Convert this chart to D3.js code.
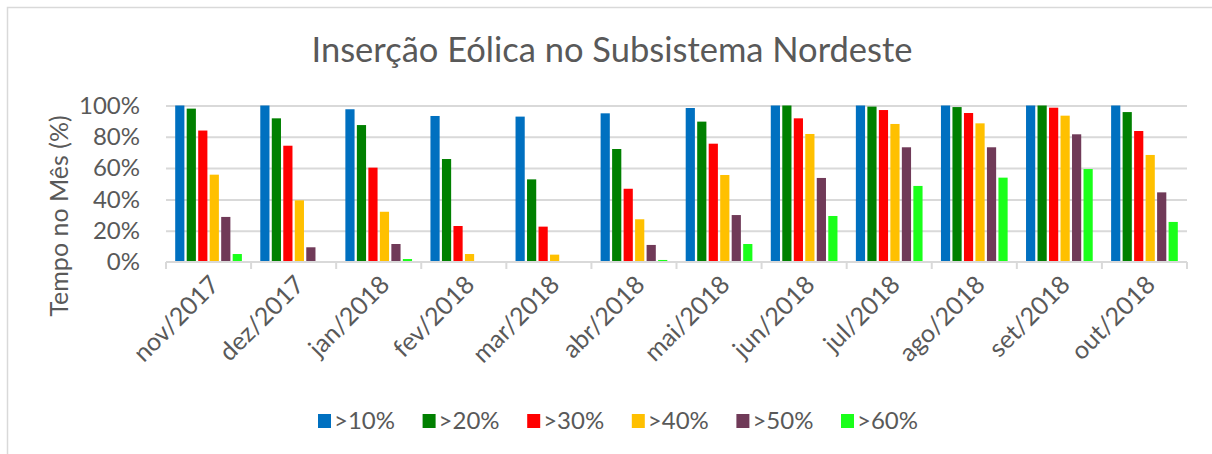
<!DOCTYPE html>
<html>
<head>
<meta charset="utf-8">
<script src="https://cdn.jsdelivr.net/npm/d3@7"></script>
<style>
  body { margin: 0; background: #fff; }
  svg text { font-family: Lato, "Open Sans", sans-serif; fill: #595959; }
</style>
</head>
<body>
<div id="chart"></div>
<script>
// Data
var months = ["nov/2017", "dez/2017", "jan/2018", "fev/2018", "mar/2018", "abr/2018",
              "mai/2018", "jun/2018", "jul/2018", "ago/2018", "set/2018", "out/2018"];
var seriesNames = [">10%", ">20%", ">30%", ">40%", ">50%", ">60%"];
var seriesColors = ["#0070C0", "#008000", "#FF0000", "#FFC000", "#703A58", "#1AFF1A"];

var over10 = [100, 100, 97.6, 93.3, 92.9, 95.0, 98.4, 100, 100, 100, 100, 100];
var over20 = [98.0, 91.8, 87.5, 65.8, 52.8, 72.2, 89.7, 100, 99.3, 99.0, 100, 95.8];
var over30 = [84.0, 74.3, 60.3, 23.0, 22.6, 46.8, 75.6, 91.8, 97.1, 95.2, 98.6, 83.7];
var over40 = [55.8, 39.4, 32.1, 5.1, 4.7, 27.3, 55.6, 81.8, 88.2, 88.6, 93.5, 68.4];
var over50 = [28.8, 9.4, 11.5, 0, 0, 10.9, 30.0, 53.7, 73.3, 73.3, 81.6, 44.5];
var over60 = [5.1, 0.3, 1.9, 0, 0, 1.3, 11.5, 29.4, 48.6, 53.9, 59.4, 25.6];
var yTicks = [0, 20, 40, 60, 80, 100];

var allSeries = [over10, over20, over30, over40, over50, over60];

// SVG dimensions
var svgWidth = 1212;
var svgHeight = 454;

var margin = { top: 105.5, right: 25, bottom: 192, left: 166 };
var chartWidth = svgWidth - margin.left - margin.right;
var chartHeight = svgHeight - margin.top - margin.bottom;

var svg = d3.select("#chart")
    .append("svg")
    .attr("width", svgWidth)
    .attr("height", svgHeight);

// outer frame
svg.append("rect")
    .attr("x", 7.5)
    .attr("y", 7.5)
    .attr("width", svgWidth)
    .attr("height", svgHeight)
    .attr("fill", "none")
    .attr("stroke", "#d9d9d9")
    .attr("stroke-width", 1.5);

// title
svg.append("text")
    .attr("x", 612)
    .attr("y", 62)
    .attr("text-anchor", "middle")
    .style("font-size", "34.5px")
    .text("Inserção Eólica no Subsistema Nordeste");

var chartGroup = svg.append("g")
    .attr("transform", `translate(${margin.left}, ${margin.top})`);

// Scales
var x0 = d3.scaleBand()
    .domain(months)
    .range([0, chartWidth]);

var x1 = d3.scaleBand()
    .domain(seriesNames)
    .range([0, x0.bandwidth()])
    .paddingInner(0.2)
    .paddingOuter(0.8);

var y = d3.scaleLinear()
    .domain([0, 100])
    .range([chartHeight, 0]);

// gridlines
chartGroup.append("g")
    .attr("class", "grid")
    .call(d3.axisLeft(y).tickValues(yTicks.slice(1)).tickSize(-chartWidth).tickFormat(""))
    .call(g => g.select(".domain").remove())
    .call(g => g.selectAll("line").attr("stroke", "#d9d9d9").attr("stroke-width", 2));

// y labels
chartGroup.append("g")
    .call(d3.axisLeft(y).tickValues(yTicks).tickSize(0).tickPadding(26).tickFormat(d => d + "%"))
    .call(g => g.select(".domain").remove())
    .call(g => g.selectAll("text").style("font-size", "24px").attr("fill", "#595959"));

// bars
var monthGroups = chartGroup.selectAll(".month")
    .data(months)
    .enter()
    .append("g")
    .attr("class", "month")
    .attr("transform", d => `translate(${x0(d)}, 0)`);

monthGroups.selectAll("rect")
    .data((m, i) => seriesNames.map((s, j) => ({ series: s, value: allSeries[j][i], color: seriesColors[j] })))
    .enter()
    .append("rect")
    .attr("x", d => x1(d.series))
    .attr("y", d => y(d.value))
    .attr("width", x1.bandwidth())
    .attr("height", d => chartHeight - y(d.value))
    .attr("fill", d => d.color);

// x axis line + boundary ticks
var xAxis = chartGroup.append("g")
    .attr("transform", `translate(0, ${chartHeight})`);

xAxis.append("line")
    .attr("x1", 0)
    .attr("x2", chartWidth)
    .attr("stroke", "#d9d9d9")
    .attr("stroke-width", 2);

xAxis.selectAll(".btick")
    .data(months.concat(["end"]))
    .enter()
    .append("line")
    .attr("x1", (d, i) => i * x0.step())
    .attr("x2", (d, i) => i * x0.step())
    .attr("y1", 0)
    .attr("y2", 7)
    .attr("stroke", "#d9d9d9")
    .attr("stroke-width", 2);

// x labels, rotated
xAxis.selectAll(".xlabel")
    .data(months)
    .enter()
    .append("text")
    .attr("class", "xlabel")
    .attr("text-anchor", "end")
    .attr("transform", d => `translate(${x0(d) + x0.bandwidth() / 2 + 6}, 18) rotate(-45)`)
    .attr("dy", "0.35em")
    .style("font-size", "25px")
    .text(d => d);

// y axis title
svg.append("text")
    .attr("transform", "translate(68, 216) rotate(-90)")
    .attr("text-anchor", "middle")
    .style("font-size", "25px")
    .text("Tempo no Mês (%)");

// legend
var legend = svg.append("g")
    .attr("transform", "translate(318, 421)");

var legendItems = legend.selectAll(".item")
    .data(seriesNames)
    .enter()
    .append("g")
    .attr("transform", (d, i) => `translate(${i * 104.6}, 0)`);

legendItems.append("rect")
    .attr("x", 0)
    .attr("y", -7)
    .attr("width", 13)
    .attr("height", 14)
    .attr("fill", (d, i) => seriesColors[i]);

legendItems.append("text")
    .attr("x", 16)
    .attr("dy", "0.35em")
    .style("font-size", "24px")
    .text(d => d);
</script>
</body>
</html>
